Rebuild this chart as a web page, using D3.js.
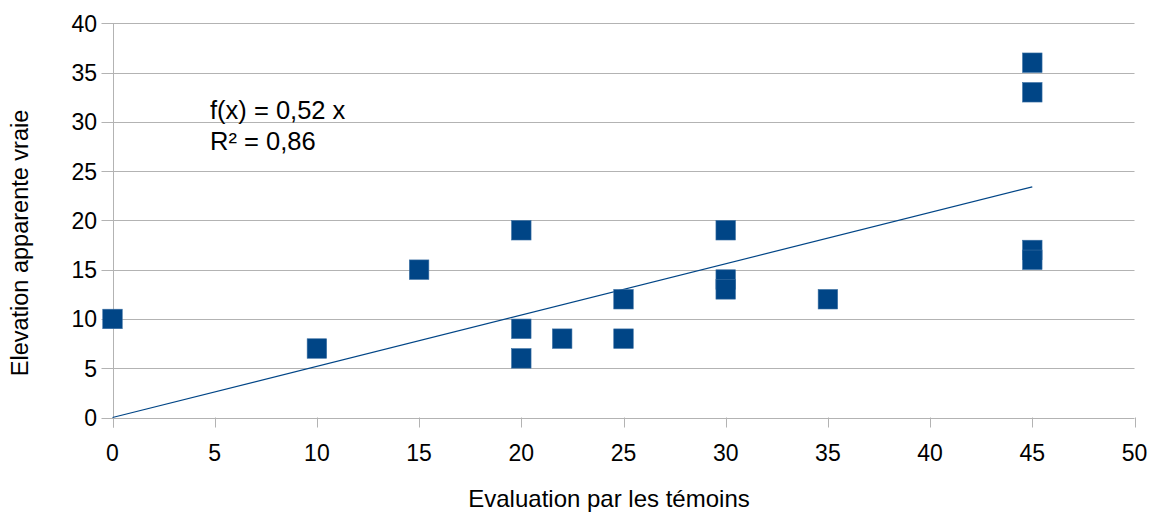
<!DOCTYPE html>
<html>
<head>
<meta charset="utf-8">
<script src="https://cdn.jsdelivr.net/npm/d3@7"></script>
<style>
  body { margin: 0; background: #fff; }
  text { font-family: "Liberation Sans", Arial, sans-serif; }
</style>
</head>
<body>
<div id="chart"></div>
<script>
var w = 1153
var h = 512

// data
var xValues = [0, 10, 15, 20, 20, 20, 22, 25, 25, 30, 30, 30, 35, 45, 45, 45, 45]
var yValues = [10, 7, 15, 19, 9, 6, 8, 12, 8, 19, 14, 13, 12, 36, 33, 17, 16]
var xTicks = [0, 5, 10, 15, 20, 25, 30, 35, 40, 45, 50]
var yTicks = [0, 5, 10, 15, 20, 25, 30, 35, 40]
var slope = 0.52
var trendText = ["f(x) = 0,52 x", "R² = 0,86"]

var blue = "#004586"

var svg = d3.select("#chart").append("svg").attr("width", w).attr("height", h)

var x = d3.scaleLinear().domain([0, 50]).range([112.5, 1134.5])
var y = d3.scaleLinear().domain([0, 40]).range([417.5, 23.3])

// horizontal grid
svg.append("g")
    .selectAll("line")
    .data(yTicks)
    .enter()
    .append("line")
    .attr("x1", x(0) - 11)
    .attr("x2", x(50))
    .attr("y1", function(d){ return Math.round(y(d)) + 0.5 })
    .attr("y2", function(d){ return Math.round(y(d)) + 0.5 })
    .attr("stroke", "#b3b3b3")
    .attr("stroke-width", 1)

// y axis line
svg.append("line")
    .attr("x1", Math.round(x(0)) + 0.5)
    .attr("x2", Math.round(x(0)) + 0.5)
    .attr("y1", y(40))
    .attr("y2", y(0) + 10)
    .attr("stroke", "#b3b3b3")

// x ticks
svg.append("g")
    .selectAll("line")
    .data(xTicks)
    .enter()
    .append("line")
    .attr("x1", function(d){ return Math.round(x(d)) + 0.5 })
    .attr("x2", function(d){ return Math.round(x(d)) + 0.5 })
    .attr("y1", y(0))
    .attr("y2", y(0) + 10)
    .attr("stroke", "#b3b3b3")

svg.append("g")
    .selectAll("text")
    .data(xTicks)
    .enter()
    .append("text")
    .text(function(d){ return d })
    .attr("x", function(d){ return x(d) })
    .attr("y", 461)
    .attr("text-anchor", "middle")
    .attr("font-size", "23px")
    .attr("fill", "#000")

svg.append("g")
    .selectAll("text")
    .data(yTicks)
    .enter()
    .append("text")
    .text(function(d){ return d })
    .attr("x", 97)
    .attr("y", function(d){ return y(d) + 8.5 })
    .attr("text-anchor", "end")
    .attr("font-size", "23px")
    .attr("fill", "#000")

// trend line
svg.append("line")
    .attr("x1", x(0))
    .attr("y1", y(0))
    .attr("x2", x(45))
    .attr("y2", y(slope * 45))
    .attr("stroke", blue)
    .attr("stroke-width", 1.2)

// points
var pts = xValues.map(function(d, i){ return [d, yValues[i]] })
var size = 19.5
svg.append("g")
    .selectAll("rect")
    .data(pts)
    .enter()
    .append("rect")
    .attr("x", function(d){ return x(d[0]) - size / 2 })
    .attr("y", function(d){ return y(d[1]) - size / 2 })
    .attr("width", size)
    .attr("height", size)
    .attr("fill", blue)
    .attr("stroke", "#3a6fa3")
    .attr("stroke-width", 0.6)

// equation
svg.append("g")
    .selectAll("text")
    .data(trendText)
    .enter()
    .append("text")
    .text(function(d){ return d })
    .attr("x", 210)
    .attr("y", function(d, i){ return 119 + i * 31 })
    .attr("font-size", "25.5px")
    .attr("fill", "#000")

// axis titles
svg.append("text")
    .text("Evaluation par les témoins")
    .attr("x", 609)
    .attr("y", 507)
    .attr("text-anchor", "middle")
    .attr("font-size", "24px")

svg.append("text")
    .text("Elevation apparente vraie")
    .attr("transform", "translate(28," + 243 + ") rotate(-90)")
    .attr("text-anchor", "middle")
    .attr("font-size", "23.5px")
</script>
</body>
</html>
